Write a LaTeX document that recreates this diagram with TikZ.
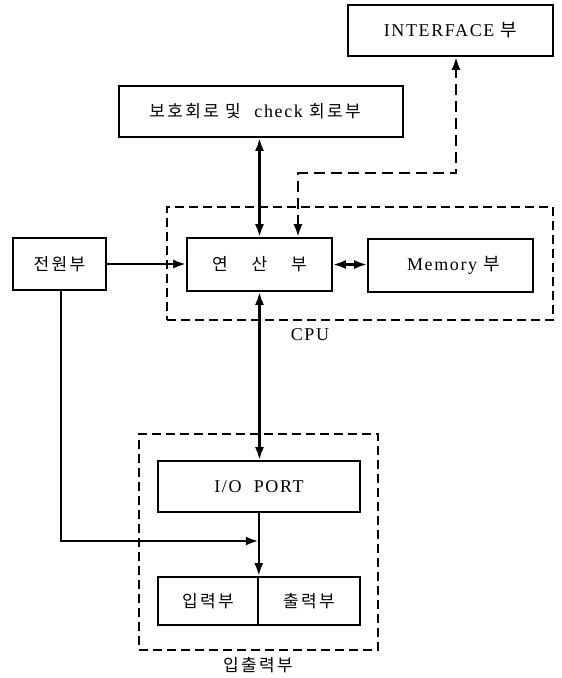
\documentclass[tikz,border=0pt]{standalone}
\usepackage{fontspec}
\setmainfont{Liberation Serif}
\newfontfamily\kr[LetterSpace=14]{Noto Sans CJK KR}
\newfontfamily\lsp[LetterSpace=9]{Liberation Serif}
\usetikzlibrary{arrows.meta}
\begin{document}
\begin{tikzpicture}[x=1pt,y=-1pt,
  box/.style={draw,line width=1.6pt,inner sep=0pt},
  grp/.style={draw,line width=1.4pt,dash pattern=on 9pt off 5pt},
  tip/.tip={Latex[length=13pt,width=9pt]},
  conn/.style={line width=2.6pt,-tip},
  bconn/.style={line width=2.6pt,tip-tip},
  dconn/.style={line width=2.8pt,dash pattern=on 11pt off 6pt,tip-tip},
  lat/.style={font=\fontsize{18}{20}\selectfont\lsp},
  kor/.style={font=\fontsize{17}{20}\selectfont\kr}]
\useasboundingbox (0,0) rectangle (562,678);
% group frames
\node[grp,minimum width=386pt,minimum height=113pt] (cpu) at (360,263.5) {};
\node[grp,minimum width=239pt,minimum height=216pt] (iog) at (258.5,542) {};
% boxes
\node[box,minimum width=205pt,minimum height=51pt,lat] (iface) at (450.5,30.5) {INTERFACE\ {\kr 부}};
\node[box,minimum width=284pt,minimum height=51pt,kor] (prot) at (261,111.5) {\hspace{-12pt}보호회로 및\hspace{0.8em}{\fontsize{18}{20}\selectfont\lsp check} 회로부};
\node[box,minimum width=145pt,minimum height=53pt,kor] (calc) at (259.5,264.5) {연\hspace{1.4em}산\hspace{1.4em}부};
\node[box,minimum width=165pt,minimum height=53pt,lat] (mem) at (450.5,265.5) {\hspace{6pt}Memory {\kr 부}};
\node[box,minimum width=93pt,minimum height=52pt,kor] (pwr) at (59.5,264) {전원부};
\node[box,minimum width=202pt,minimum height=51pt,lat] (port) at (259,486.5) {I/O\ \ PORT};
\node[box,minimum width=100pt,minimum height=48pt,kor] (inp) at (208,601) {입력부};
\node[box,minimum width=102pt,minimum height=48pt,kor] (outp) at (309,601) {출력부};
% labels
\node[lat] (cpul) at (310,335) {CPU};
\node[kor] (iol) at (258,665) {입출력부};
% connectors
\draw[bconn] (calc.north) -- (calc.north |- prot.south);
\coordinate (d1) at (298,173);
\coordinate (d2) at (456,173);
\draw[dconn] (d1 |- calc.north) -- (d1) -- (d2) -- (d2 |- iface.south);
\draw[bconn] (calc.east) -- (mem.west |- calc.east);
\draw[conn] (pwr.east) -- (calc.west |- pwr.east);
\draw[bconn] (calc.south) -- (calc.south |- port.north);
\coordinate (p1) at (61,541);
\draw[conn] (pwr.south -| p1) -- (p1) -- (p1 -| inp.east);
\draw[conn] (port.south -| inp.east) -- (inp.north east);
\end{tikzpicture}
\end{document}
